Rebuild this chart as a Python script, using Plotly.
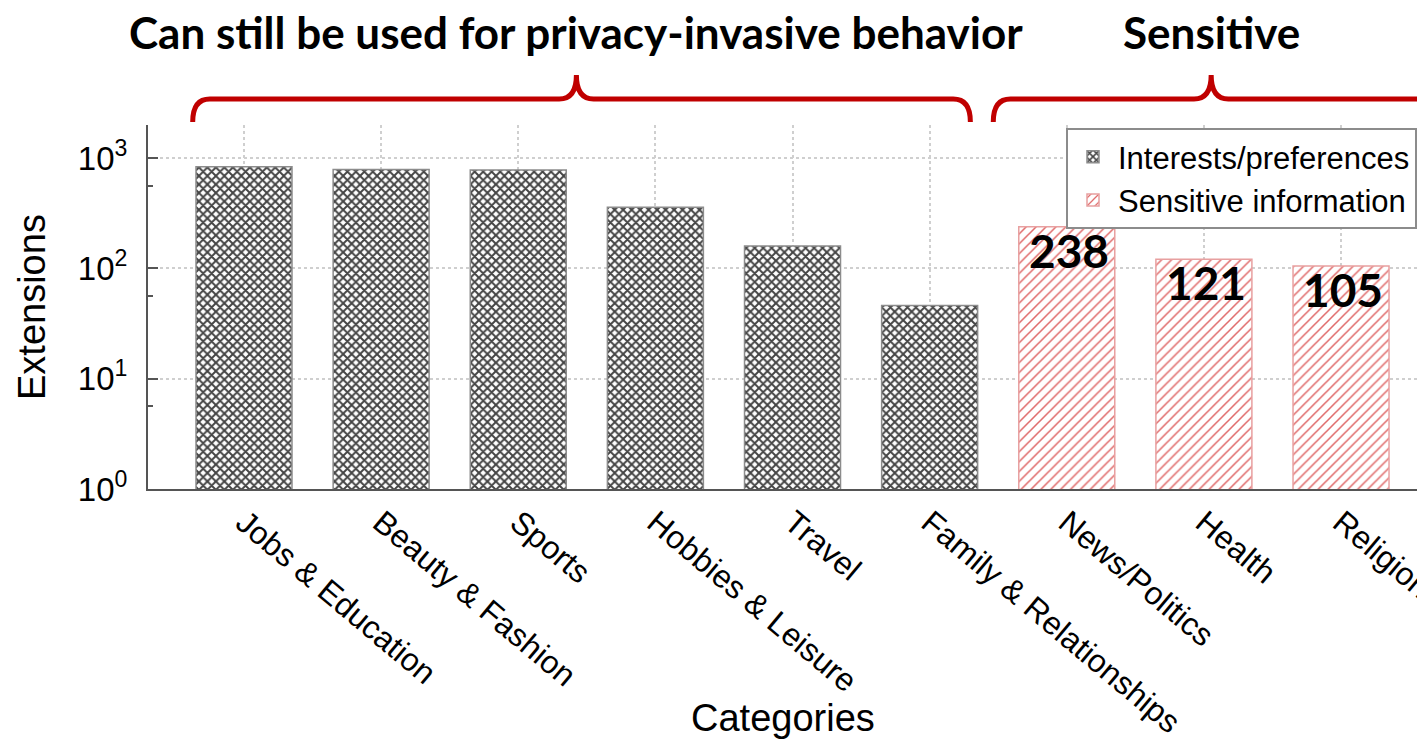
import math
import plotly.graph_objects as go

categories = ["Jobs & Education", "Beauty & Fashion", "Sports", "Hobbies & Leisure",
              "Travel", "Family & Relationships", "News/Politics", "Health", "Religion"]
interest_cats = categories[:6]
interest_vals = [836, 790, 780, 358, 160, 46]
sensitive_cats = categories[6:]
sensitive_vals = [238, 121, 105]

ytick_vals = [1, 10, 100, 1000]
ytick_text = ["10<sup>0</sup>", "10<sup>1</sup>", "10<sup>2</sup>", "10<sup>3</sup>"]
yminor_vals = [5.62, 56.2, 562]

group_titles = ["Can still be used for privacy-invasive behavior", "Sensitive"]

W, H = 1417, 744
L, R, T, B = 148, 0, 125, 255
plot_h = H - T - B

BASE_FONT = "Liberation Sans, Arial, Helvetica, sans-serif"
BOLD_FONT = "Lato, sans-serif"
RED = "#C00000"

fig = go.Figure()
fig.add_trace(go.Bar(
    x=interest_cats, y=interest_vals, name="Interests/preferences",
    width=0.70,
    marker=dict(color="white", line=dict(color="#8c8c8c", width=1.5),
                pattern=dict(shape="x", fgcolor="#444444", bgcolor="white",
                             size=6, solidity=0.55, fillmode="replace")),
))
fig.add_trace(go.Bar(
    x=sensitive_cats, y=sensitive_vals, name="Sensitive information",
    width=0.70,
    marker=dict(color="white", line=dict(color="#e8a0a0", width=1.5),
                pattern=dict(shape="/", fgcolor="#e06a6a", bgcolor="white",
                             size=7, solidity=0.22, fillmode="replace")),
))

# value labels for the sensitive bars (annotation y on a log axis is given in log10 units)
for cat, val in zip(sensitive_cats, sensitive_vals):
    fig.add_annotation(x=cat, y=math.log10(val), xref="x", yref="y", text=str(val),
                       showarrow=False, xanchor="center", yanchor="top",
                       yshift=6, xshift=2,
                       font=dict(family=BOLD_FONT, size=46, color="black",
                                 weight="bold"))

x_range = [-0.70, 8.554]
y_top = 3.30

fig.update_layout(
    width=W, height=H,
    margin=dict(l=L, r=R, t=T, b=B, autoexpand=False),
    paper_bgcolor="white", plot_bgcolor="white",
    barmode="overlay",
    font=dict(family=BASE_FONT, size=32, color="black"),
    xaxis=dict(
        type="category", categoryorder="array", categoryarray=categories,
        range=x_range, showline=True, linecolor="#555555", linewidth=2,
        ticks="", tickangle=40, tickfont=dict(size=32, color="black"),
        showgrid=True, gridcolor="#cfcfcf", griddash="dot", gridwidth=1.5,
        zeroline=False,
    ),
    xaxis2=dict(
        type="linear", overlaying="x", side="top", anchor="y",
        range=x_range, tickmode="linear", tick0=0, dtick=1,
        ticks="inside", ticklen=6, tickcolor="#777777", tickwidth=1.5,
        showticklabels=False, showline=True, linecolor="#888888", linewidth=2,
        showgrid=False, zeroline=False,
    ),
    yaxis=dict(
        type="log", range=[0, y_top],
        tickvals=ytick_vals, ticktext=ytick_text,
        tickfont=dict(size=33, color="black"),
        ticks="inside", ticklen=10, tickcolor="#555555", tickwidth=1.5,
        ticklabelstandoff=12,
        minor=dict(tickvals=yminor_vals, ticks="inside", ticklen=5,
                   tickcolor="#555555", showgrid=False),
        showline=True, linecolor="#555555", linewidth=2,
        showgrid=True, gridcolor="#cfcfcf", griddash="dot", gridwidth=1.5,
        zeroline=False,
    ),
    legend=dict(
        x=1, xanchor="right", y=1 - 3 / plot_h, yanchor="top",
        bgcolor="white", bordercolor="#8c8c8c", borderwidth=2,
        font=dict(family=BASE_FONT, size=31, color="black"),
        tracegroupgap=0, itemwidth=40,
    ),
    showlegend=True,
)

# axis titles as annotations
fig.add_annotation(text="Categories", xref="paper", yref="paper",
                   x=0.5, y=-(718 - (H - B)) / plot_h, showarrow=False,
                   font=dict(family=BASE_FONT, size=38, color="black"),
                   xanchor="center", yanchor="middle")
fig.add_annotation(text="Extensions", xref="paper", yref="paper",
                   x=(32 - L) / (W - L), y=0.5, showarrow=False, textangle=-90,
                   font=dict(family=BASE_FONT, size=38, color="black"),
                   xanchor="center", yanchor="middle")

# curly braces
def py(px_y):
    return (H - B - px_y) / plot_h

def brace(x0, xm, x1, rx=0.125):
    yb, yh, yp = py(122), py(99), py(75)
    return (f"M {x0},{yb} Q {x0},{yh} {x0 + rx},{yh} "
            f"L {xm - rx},{yh} Q {xm},{yh} {xm},{yp} "
            f"Q {xm},{yh} {xm + rx},{yh} "
            f"L {x1 - rx},{yh} Q {x1},{yh} {x1},{yb}")

brace_specs = [(-0.374, 2.424, 5.297), (5.464, 7.053, 9.6)]
for (x0, xm, x1), title in zip(brace_specs, group_titles):
    fig.add_shape(type="path", xref="x", yref="paper", path=brace(x0, xm, x1),
                  line=dict(color=RED, width=5), layer="above")
    fig.add_annotation(text=title, xref="x", yref="paper", x=xm, y=py(32),
                       showarrow=False, xanchor="center", yanchor="middle",
                       font=dict(family=BOLD_FONT, size=44,
                                 color="black", weight="bold"))

fig.write_html("out.html")
